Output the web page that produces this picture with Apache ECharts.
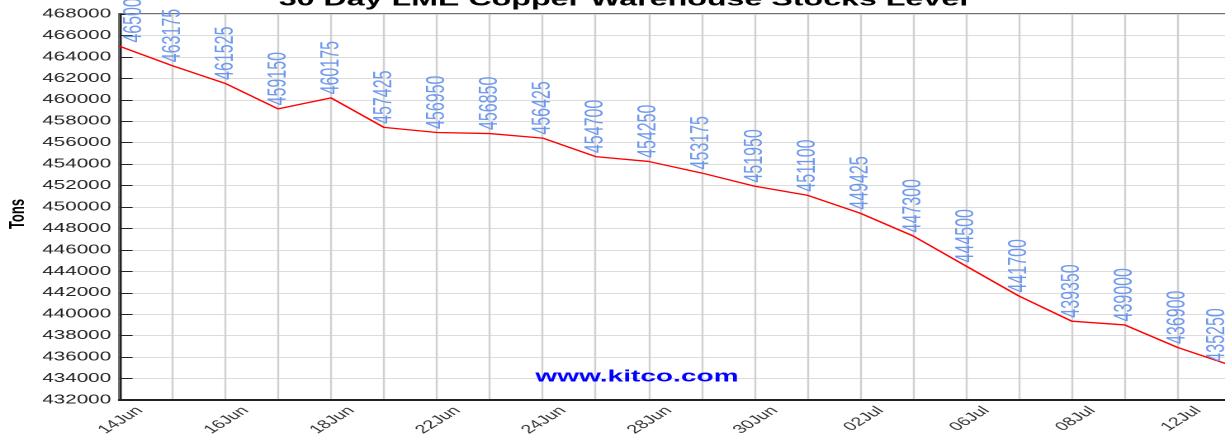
<!DOCTYPE html>
<html><head><meta charset="utf-8">
<script src="https://cdn.jsdelivr.net/npm/echarts@6/dist/echarts.min.js"></script>
<style>
html,body{margin:0;padding:0;overflow:hidden;background:#fff}
#wrap{width:1225px;height:434px;overflow:hidden;position:relative}
#chart{width:742px;height:434px;transform-origin:0 0;transform:scaleX(1.651)}
</style></head><body><div id="wrap"><div id="chart"></div></div>
<script>
const categories = ['14Jun','15Jun','16Jun','17Jun','18Jun','21Jun','22Jun','23Jun','24Jun','25Jun','28Jun','29Jun','30Jun','01Jul','02Jul','05Jul','06Jul','07Jul','08Jul','09Jul','12Jul','13Jul'];
const stocks = [465000,463175,461525,459150,460175,457425,456950,456850,456425,454700,454250,453175,451950,451100,449425,447300,444500,441700,439350,439000,436900,435250];
const yMin = 432000, yMax = 468000, yStep = 2000;
const titleText = '30 Day LME Copper Warehouse Stocks Level';
const yAxisName = 'Tons';
const watermark = 'www.kitco.com';

const last = stocks.length - 1;
const seriesData = stocks.map((v, i) => {
  if (i === 0) return { value: v, label: { offset: [0, 9] } };
  if (i === last) return { value: v, label: { offset: [0, -8] } };
  return v;
});

const chart = echarts.init(document.getElementById('chart'), null, { renderer: 'canvas', devicePixelRatio: 2 });
chart.setOption({
  animation: false,
  backgroundColor: '#fff',
  grid: { left: 72.3, top: 14, width: 673, height: 386, outerBoundsMode: 'none', containLabel: false, show: true, borderColor: '#444', borderWidth: 1.5, backgroundColor: 'transparent' },
  graphic: [
    { type: 'text', x: 377.6, y: 10, style: { text: titleText, font: 'bold 19.5px "Liberation Sans", Arial, sans-serif', fill: '#000', align: 'center', verticalAlign: 'bottom' } },
    { type: 'text', x: 385.8, y: 377, z: 100, style: { text: watermark, font: 'bold 17px "Liberation Sans", Arial, sans-serif', fill: '#0000ff', align: 'center', verticalAlign: 'middle' } },
    { type: 'text', x: 11, y: 214, rotation: Math.PI / 2, style: { text: yAxisName, font: 'bold 13px "Liberation Sans Narrow", "Liberation Sans", Arial, sans-serif', fill: '#000', align: 'center', verticalAlign: 'middle' } }
  ],
  xAxis: {
    type: 'category', data: categories, boundaryGap: false,
    axisLine: { show: true, lineStyle: { color: '#222', width: 2 } },
    axisTick: { show: false },
    axisLabel: { interval: 1, rotate: 45, fontSize: 12, color: '#333', fontFamily: '"Liberation Sans", Arial, sans-serif', margin: 2, verticalAlign: 'top', lineHeight: 27, padding: [0, -4, 0, 0] },
    splitLine: { show: true, interval: 0, lineStyle: { color: '#d0d0d0', width: 1.2 } }
  },
  yAxis: {
    type: 'value', min: yMin, max: yMax, interval: yStep,
    axisLine: { show: true, lineStyle: { color: '#222', width: 1.5 } },
    axisTick: { show: true, inside: true, length: 8, lineStyle: { color: '#222', width: 1 } },
    axisLabel: { fontSize: 12.5, color: '#222', fontFamily: '"Liberation Sans", Arial, sans-serif', margin: 5, formatter: v => String(v) },
    splitLine: { show: true, lineStyle: { color: '#dcdcdc', width: 1 } }
  },
  series: [{
    type: 'line', data: seriesData, showSymbol: true, symbol: 'circle', symbolSize: 1,
    itemStyle: { color: '#ff0000' },
    lineStyle: { color: '#ff0000', width: 1.3 },
    label: { show: true, position: 'top', rotate: 90, align: 'left', verticalAlign: 'middle', distance: 3,
      color: '#6e98ee', fontSize: 16, fontFamily: '"Liberation Sans Narrow", "Arial Narrow", "Liberation Sans", sans-serif' }
  }]
});
</script></body></html>
